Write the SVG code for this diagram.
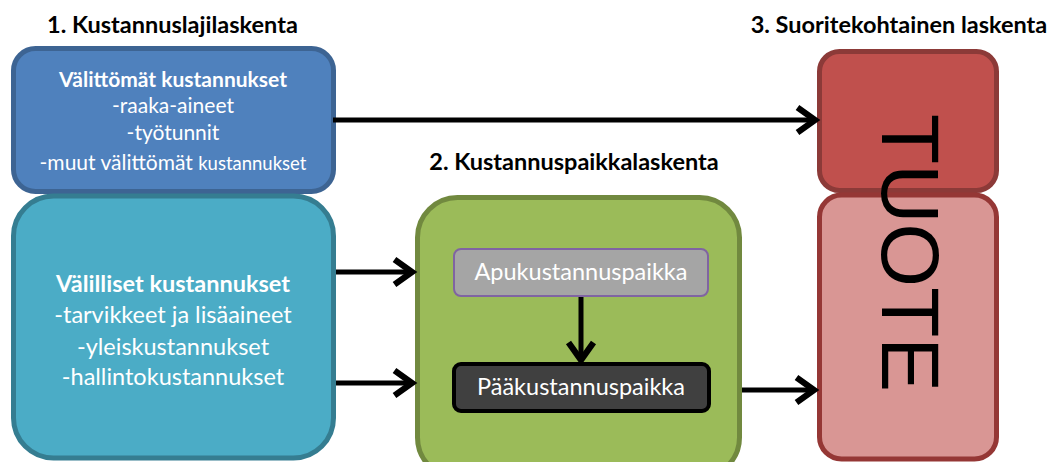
<svg xmlns="http://www.w3.org/2000/svg" width="1054" height="462" viewBox="0 0 1054 462">
<defs>
<style>
.h{font-family:Lato,"Liberation Sans",sans-serif;font-weight:bold;font-size:23.5px;fill:#000;}
.wb{font-family:Lato,"Liberation Sans",sans-serif;font-weight:bold;fill:#fff;text-anchor:middle;}
.w{font-family:Lato,"Liberation Sans",sans-serif;fill:#fff;text-anchor:middle;}
.c{fill:none;stroke:#000;stroke-width:5;}
</style>
<marker id="ah" markerUnits="userSpaceOnUse" markerWidth="40" markerHeight="40" viewBox="-22 -16 26 32" refX="0" refY="0" orient="auto" overflow="visible">
<path d="M-14,-10 L0,0 L-14,10" fill="none" stroke="#000" stroke-width="5"/>
</marker>
</defs>
<rect width="1054" height="462" fill="#fff"/>
<text class="h" x="47" y="33">1. Kustannuslajilaskenta</text>
<text class="h" x="574" y="170" text-anchor="middle">2. Kustannuspaikkalaskenta</text>
<text class="h" x="899" y="33" text-anchor="middle">3. Suoritekohtainen laskenta</text>
<g id="valittomat">
<rect x="13.5" y="48.5" width="320" height="143" rx="22" fill="#4f81bd" stroke="#3d6493" stroke-width="5"/>
<text class="wb" x="173" y="87" font-size="21">Välittömät kustannukset</text>
<text class="w" x="173" y="113" font-size="21">-raaka-aineet</text>
<text class="w" x="173" y="140" font-size="21">-työtunnit</text>
<text class="w" x="173" y="170" font-size="21">-muut välittömät  <tspan font-size="18.5">kustannukset</tspan></text>
</g>
<g id="valilliset">
<rect x="13.5" y="196" width="320" height="262" rx="40" fill="#4bacc6" stroke="#357d91" stroke-width="5"/>
<text class="wb" x="173" y="292" font-size="23.5">Välilliset kustannukset</text>
<text class="w" x="173" y="323" font-size="23.5">-tarvikkeet ja lisäaineet</text>
<text class="w" x="173" y="355" font-size="23.5">-yleiskustannukset</text>
<text class="w" x="173" y="385" font-size="23.5">-hallintokustannukset</text>
</g>
<g id="kustannuspaikka">
<rect x="417.5" y="197.5" width="322" height="280" rx="40" fill="#9bbb59" stroke="#71893f" stroke-width="5"/>
</g>
<g id="apu">
<rect x="454" y="249" width="254" height="47" rx="7" fill="#a5a5a5" stroke="#8064a2" stroke-width="2"/>
<text class="w" x="581" y="280" font-size="23.5">Apukustannuspaikka</text>
</g>
<g id="paa">
<rect x="454" y="364" width="255" height="47" rx="7" fill="#404040" stroke="#000" stroke-width="4"/>
<text class="w" x="581" y="395" font-size="23.5">Pääkustannuspaikka</text>
</g>
<g id="tuote">
<rect x="819.5" y="51.5" width="177" height="139" rx="20" fill="#c0504d" stroke="#8c3a38" stroke-width="5"/>
<rect x="819.5" y="195" width="177" height="264" rx="22" fill="#d99694" stroke="#953735" stroke-width="5"/>
<text transform="translate(882,253) rotate(90)" x="0" y="0" text-anchor="middle" font-family="'Liberation Sans',Arial,sans-serif" font-size="82" fill="#000">TUOTE</text>
</g>
<g id="connectors">
<line class="c" x1="333" y1="120" x2="815" y2="120" marker-end="url(#ah)"/>
<line class="c" x1="336" y1="272" x2="412" y2="272" marker-end="url(#ah)"/>
<line class="c" x1="336" y1="383" x2="412" y2="383" marker-end="url(#ah)"/>
<line class="c" x1="742" y1="390" x2="814" y2="390" marker-end="url(#ah)"/>
<line class="c" x1="581" y1="297" x2="581" y2="360" stroke-width="4" marker-end="url(#ah)"/>
</g>
</svg>
